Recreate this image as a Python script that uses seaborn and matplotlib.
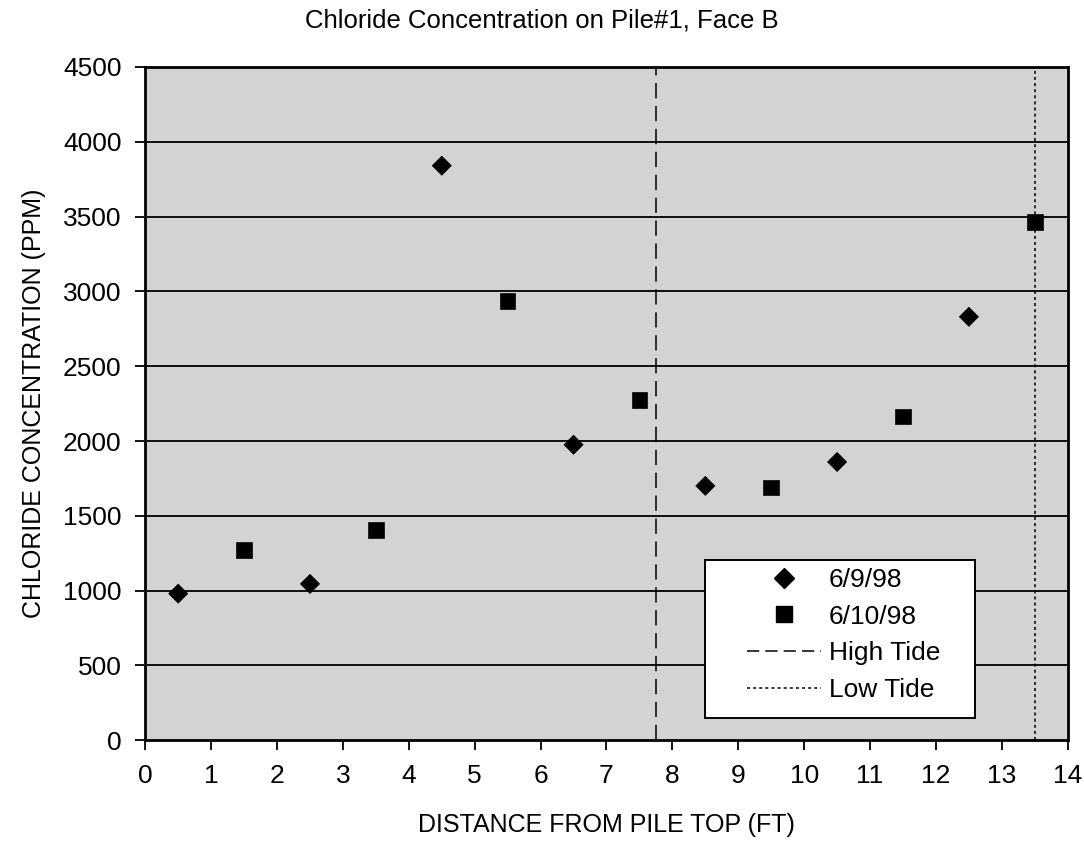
import matplotlib
matplotlib.use("Agg")
import matplotlib.pyplot as plt
import seaborn as sns
import pandas as pd
from matplotlib.lines import Line2D
from matplotlib.patches import Rectangle

# values
depth_69 = [0.5, 2.5, 4.5, 6.5, 8.5, 10.5, 12.5]
ppm_69 = [980, 1045, 3840, 1975, 1700, 1860, 2830]
depth_610 = [1.5, 3.5, 5.5, 7.5, 9.5, 11.5, 13.5]
ppm_610 = [1270, 1405, 2935, 2275, 1690, 2165, 3465]
high_tide = 7.75
low_tide = 13.5

df = pd.DataFrame({
    "depth": depth_69 + depth_610,
    "ppm": ppm_69 + ppm_610,
    "date": ["6/9/98"] * len(depth_69) + ["6/10/98"] * len(depth_610),
})

sns.set_style("ticks")
plt.rcParams["font.family"] = ["Liberation Sans", "DejaVu Sans"]
for k in ["text.color", "axes.labelcolor", "xtick.color", "ytick.color"]:
    plt.rcParams[k] = "black"

fig = plt.figure(figsize=(10.84, 8.47), dpi=100)
ax = fig.add_axes([0.134, 0.126, 0.851, 0.795])
ax.set_facecolor("#d3d3d3")

for y in range(500, 4500, 500):
    ax.axhline(y, color="black", lw=1.3, zorder=1)
ax.axvline(high_tide, color="black", lw=1.1, ls=(0, (10, 5)), zorder=1)
ax.axvline(low_tide, color="black", lw=1.1, ls=(0, (2, 2)), zorder=1)

sns.scatterplot(data=df, x="depth", y="ppm", style="date",
                markers={"6/9/98": "D", "6/10/98": "s"},
                color="black", edgecolor="black",
                legend=False, ax=ax, zorder=3)
ax.collections[-1].set_sizes([95 if d == "6/9/98" else 125 for d in df["date"]])

ax.set_xlim(0, 14)
ax.set_ylim(0, 4500)
ax.set_xticks(range(0, 15))
ax.set_yticks(range(0, 4501, 500))
ax.tick_params(labelsize=19, length=7, width=1.3, direction="out", pad=10)
for s in ax.spines.values():
    s.set_linewidth(2)
    s.set_color("black")

ax.set_xlabel("DISTANCE FROM PILE TOP (FT)", fontsize=18, labelpad=18)
ax.set_ylabel("CHLORIDE CONCENTRATION (PPM)", fontsize=18, labelpad=12)
fig.suptitle("Chloride Concentration on Pile#1, Face B", fontsize=18.5, y=0.99)

# legend box drawn like the Excel one: wide frame, content indented
ax.add_patch(Rectangle((0.607, 0.033), 0.2925, 0.235, transform=ax.transAxes,
                       facecolor="white", edgecolor="black", lw=1.4, zorder=4))
handles = [
    Line2D([], [], marker="D", color="black", ls="none", markersize=10),
    Line2D([], [], marker="s", color="black", ls="none", markersize=11),
    Line2D([], [], color="black", lw=1.1, ls=(0, (8, 4))),
    Line2D([], [], color="black", lw=1.1, ls=(0, (2, 2))),
]
leg = ax.legend(handles, ["6/9/98", "6/10/98", "High Tide", "Low Tide"],
                loc="upper left", bbox_to_anchor=(0.652, 0.256),
                fontsize=19, frameon=False, handlelength=2.8,
                borderpad=0, borderaxespad=0, labelspacing=0.48,
                handletextpad=0.3)
leg.set_zorder(5)

fig.savefig("out.png", dpi=100)
